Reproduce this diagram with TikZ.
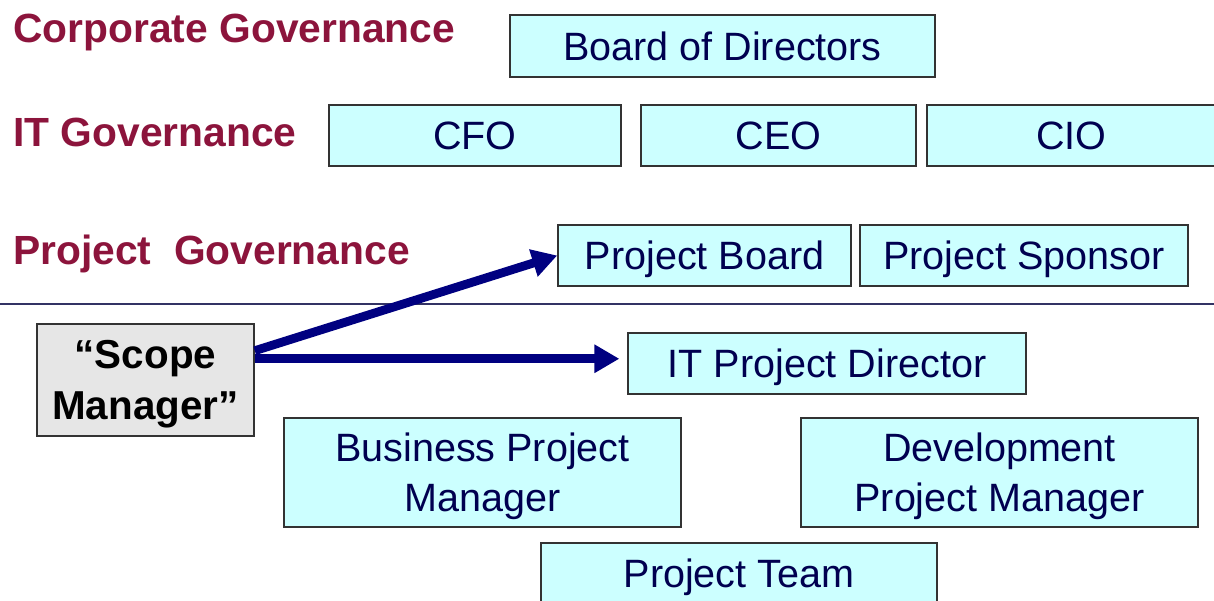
\documentclass[tikz,border=0pt]{standalone}
\usepackage{fontspec}
\setmainfont{Liberation Sans}
\usetikzlibrary{positioning,arrows.meta}
\definecolor{govred}{RGB}{140,20,60}
\definecolor{boxcyan}{RGB}{204,255,255}
\definecolor{boxnavy}{RGB}{0,0,80}
\definecolor{scopegray}{RGB}{230,230,230}
\definecolor{arrownavy}{RGB}{0,0,128}
\definecolor{rulenavy}{RGB}{50,50,100}
\tikzset{
  box/.style  ={draw=black!80, line width=0.9pt, fill=boxcyan, text=boxnavy,
                inner sep=0pt, text depth=0pt, align=center,
                font=\fontsize{22.5}{28.5}\selectfont},
  role/.style ={box, minimum height=1.23cm},
  tall/.style ={box, minimum height=2.18cm},
  scopebox/.style={box, fill=scopegray, text=black, minimum width=4.34cm,
                minimum height=2.24cm, font=\fontsize{23}{29}\selectfont\bfseries},
  gov/.style  ={anchor=base west, text=govred, inner sep=0pt,
                font=\fontsize{23.2}{27}\selectfont\bfseries},
  fl/.style   ={-{Triangle[length=5mm,width=5.4mm]}, line width=5pt, draw=arrownavy},
}

\begin{document}
\begin{tikzpicture}[x=0.02cm, y=-0.02cm]
  \useasboundingbox (0,0) rectangle (1214,601);

  % ---- governance levels ---------------------------------------------
  \node[gov] (corp) at (13,43)  {Corporate Governance};
  \node[gov] (itg)  at (13,147) {IT Governance};
  \node[gov] (prj)  at (13,265) {Project\ \ Governance};

  % ---- board and executives ------------------------------------------
  \node[role, minimum width=8.5cm]  (board) at (722.5,46)   {Board of Directors};
  \node[role, minimum width=5.84cm] (cfo)   at (475,135.5)  {CFO};
  \node[role, minimum width=5.5cm]  (ceo)   at (778.5,135.5){CEO};
  \node[role, minimum width=5.78cm] (cio)   at (1071.5,135.5){CIO};

  % ---- project level -------------------------------------------------
  \node[role, minimum width=5.86cm] (pboard)  at (704.5,255.5) {Project Board};
  \node[role, minimum width=6.56cm] (sponsor) at (1024,255.5)  {Project Sponsor};

  \coordinate (sepL) at (0,304);
  \coordinate (sepR) at (1214,304);
  \draw[rulenavy, line width=1pt] (sepL) -- (sepR);

  % ---- delivery ------------------------------------------------------
  \node[scopebox] (scope) at (145.5,380) {``Scope\\Manager''};
  \node[role, minimum width=7.96cm] (itpd) at (827,363.5) {IT Project Director};
  \node[tall, minimum width=7.94cm] (bpm)  at (482.5,472.5) {Business Project\\Manager};
  \node[tall, minimum width=7.94cm] (dpm)  at (999.5,472.5) {Development\\Project Manager};
  \node[role, minimum width=7.92cm] (team) at (739,573.5) {Project Team};

  \draw[fl] (scope.15) -- (pboard.west);
  \draw[fl, shorten >=4.5pt] (scope.11) -- (scope.11 -| itpd.west);
\end{tikzpicture}
\end{document}
